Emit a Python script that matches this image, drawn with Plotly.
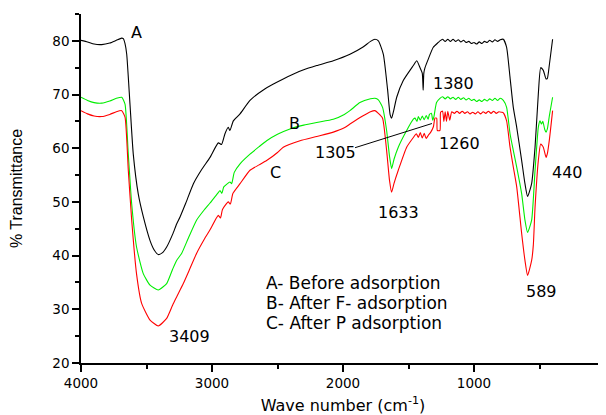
import plotly.graph_objects as go

# FTIR spectra (wavenumber cm-1, % transmittance)
wn_a = [4000, 3950, 3900, 3842, 3780, 3730, 3690, 3677, 3664, 3651, 3626, 3601, 3563, 3524, 3473, 3440,
        3410, 3380, 3346, 3300, 3270, 3244, 3200, 3142, 3080, 3015, 2952, 2927, 2901, 2876, 2863, 2837,
        2786, 2710, 2600, 2456, 2300, 2201, 2074, 1947, 1850, 1790, 1756, 1730, 1692, 1660, 1640, 1629,
        1615, 1590, 1540, 1463, 1437, 1412, 1395, 1388, 1383, 1374, 1349, 1311, 1273,
        1260, 1240, 1220, 1200, 1180, 1160, 1140, 1120, 1100, 1080, 1060, 1040, 1020, 1000, 980, 960,
        940, 920, 900, 880, 860, 840, 820, 800, 776, 751, 725, 700, 674, 636, 611, 591, 560, 534, 509,
        491, 471, 450, 440, 425, 400]
tr_a = [80.1, 79.8, 79.4, 79.3, 79.6, 80.1, 80.5, 80.4, 79.5, 77.5, 68.2, 58.9, 51.5, 47.2, 42.8, 41.0,
        40.2, 40.5, 41.6, 44.0, 45.9, 47.2, 49.8, 53.4, 56.0, 58.3, 61.0, 60.7, 62.7, 63.9, 63.3, 65.1,
        66.4, 68.9, 71.0, 72.9, 74.6, 75.4, 76.3, 77.5, 78.8, 79.9, 80.3, 80.0, 77.5, 71.0, 66.2, 65.6,
        66.8, 69.5, 72.6, 75.4, 76.3, 75.0, 74.0, 70.8, 74.0, 75.0, 76.6, 78.8, 79.7,
        80.0, 80.3, 79.9, 80.3, 79.9, 80.3, 79.9, 80.2, 79.8, 80.1, 79.7, 79.9, 79.5, 79.7, 79.4, 79.8,
        79.5, 79.9, 79.7, 80.1, 79.8, 80.2, 79.9, 80.2, 80.3, 78.8, 73.2, 67.6, 63.9, 57.7, 53.4, 51.0,
        53.4, 60.2, 70.1, 75.0, 74.5, 72.9, 73.0, 75.5, 80.3]

wn_b = [4000, 3950, 3900, 3842, 3780, 3730, 3689, 3664, 3639, 3613, 3576, 3524, 3473, 3410, 3346, 3300,
        3270, 3232, 3180, 3118, 3060, 3015, 2960, 2939, 2925, 2910, 2863, 2850, 2830, 2786, 2710, 2640,
        2583, 2500, 2405, 2300, 2201, 2074, 1990, 1947, 1871, 1790, 1756, 1730, 1698, 1667, 1645, 1629,
        1610, 1578, 1514, 1463, 1450, 1435, 1425, 1410, 1395, 1380, 1365, 1350, 1340, 1325, 1315, 1305,
        1286, 1260, 1240, 1220, 1200, 1180, 1160, 1140, 1120, 1100, 1080, 1060, 1040, 1020, 1000, 980,
        960, 940, 920, 900, 880, 860, 840, 820, 800, 776, 751, 725, 700, 674, 636, 611, 591, 560, 534,
        509, 496, 485, 475, 460, 450, 440, 425, 400]
tr_b = [69.5, 68.9, 68.5, 68.4, 68.8, 69.3, 69.5, 68.2, 58.9, 49.6, 41.6, 36.6, 34.5, 33.6, 34.8, 37.5,
        39.1, 40.4, 43.3, 46.6, 48.5, 49.8, 51.5, 52.1, 51.6, 52.8, 53.7, 53.4, 55.5, 57.1, 58.9, 60.3,
        61.4, 62.6, 63.6, 64.3, 64.8, 65.4, 66.3, 67.0, 68.5, 69.2, 69.3, 69.0, 67.6, 63.3, 58.5, 56.2,
        58.0, 60.2, 63.3, 65.4, 65.6, 65.0, 65.9, 65.2, 66.0, 65.3, 66.1, 65.4, 66.3, 66.5, 65.2, 66.0,
        68.5, 69.3, 69.6, 69.2, 69.6, 69.2, 69.5, 69.1, 69.5, 69.1, 69.4, 69.0, 69.3, 68.9, 69.1, 68.7,
        69.0, 68.7, 69.1, 68.8, 69.2, 68.9, 69.3, 68.9, 69.3, 68.9, 67.6, 62.7, 59.6, 56.5, 51.5, 46.6,
        44.3, 46.6, 55.9, 63.9, 65.1, 64.5, 65.0, 63.5, 63.0, 63.6, 66.0, 69.5]

wn_c = [4000, 3950, 3900, 3842, 3780, 3730, 3689, 3664, 3639, 3613, 3576, 3537, 3473, 3410, 3346, 3300,
        3270, 3219, 3170, 3118, 3060, 3015, 2952, 2935, 2920, 2876, 2860, 2840, 2786, 2710, 2640, 2583,
        2500, 2456, 2328, 2200, 2074, 1990, 1947, 1850, 1790, 1756, 1730, 1698, 1667, 1645, 1629, 1610,
        1578, 1514, 1463, 1440, 1425, 1410, 1395, 1380, 1365, 1349, 1330, 1310, 1298, 1285, 1280, 1260,
        1255, 1240, 1230, 1220, 1210, 1200, 1185, 1170, 1150, 1130, 1110, 1090, 1070, 1050, 1030, 1010,
        990, 970, 950, 930, 910, 890, 870, 850, 830, 810, 789, 776, 751, 725, 700, 674, 636, 611, 591,
        560, 547, 534, 509, 491, 471, 450, 440, 425, 400]
tr_c = [67.0, 66.4, 66.0, 65.9, 66.3, 66.8, 67.0, 65.8, 55.9, 46.6, 36.6, 31.1, 28.0, 26.9, 28.3, 30.8,
        32.3, 34.8, 37.5, 40.4, 43.0, 44.8, 47.5, 47.0, 48.6, 50.0, 49.6, 51.6, 53.4, 55.9, 56.9, 57.7,
        59.2, 60.2, 61.4, 62.2, 63.0, 63.8, 64.5, 66.0, 66.8, 67.0, 66.5, 65.6, 59.6, 54.0, 51.8, 53.5,
        55.9, 60.2, 62.0, 62.7, 62.0, 62.9, 61.9, 62.8, 61.8, 62.4, 63.0, 64.0, 65.6, 65.6, 63.3, 63.3,
        66.7, 66.9, 65.0, 66.8, 65.0, 66.9, 65.2, 66.8, 66.5, 66.9, 66.5, 66.9, 66.5, 66.8, 66.4, 66.7,
        66.4, 66.8, 66.4, 66.8, 66.5, 66.9, 66.5, 66.9, 66.5, 66.8, 66.7, 66.6, 65.1, 60.2, 56.5, 52.8,
        44.1, 39.1, 36.3, 39.1, 42.0, 49.0, 57.7, 60.8, 60.2, 58.3, 59.0, 61.5, 67.0]

curves = [("A", wn_a, tr_a, "black"), ("B", wn_b, tr_b, "#00ee00"), ("C", wn_c, tr_c, "#ff0000")]

# peak / curve labels: (text, wavenumber, %T)
labels = [("A", 3580, 81.5), ("B", 2374, 64.6), ("C", 2519, 55.5), ("1305", 2061, 59.2),
          ("1380", 1153, 72.0), ("1260", 1107, 60.9), ("440", 290, 55.5), ("1633", 1573, 48.1),
          ("589", 481, 33.4), ("3409", 3168, 25.0)]
legend_lines = ["A- Before adsorption", "B- After F- adsorption", "C- After P adsorption"]
legend_y = [34.9, 31.1, 27.4]

fnt = "DejaVu Sans"

fig = go.Figure()
for name, wn, tr, col in curves:
    fig.add_trace(go.Scatter(x=wn, y=tr, mode="lines", name=name,
                             line=dict(color=col, width=1.1, shape="spline", smoothing=0.5)))

# pointer line for the 1305 label
fig.add_trace(go.Scatter(x=[1908, 1321], y=[60.1, 64.6], mode="lines",
                         line=dict(color="black", width=1), showlegend=False))

for txt, x, y in labels:
    fig.add_annotation(x=x, y=y, text=txt, showarrow=False,
                       font=dict(family=fnt, size=16, color="black"))
for txt, y in zip(legend_lines, legend_y):
    fig.add_annotation(x=2603, y=y, text=txt, showarrow=False, xanchor="left",
                       font=dict(family=fnt, size=17, color="black"))

# page body adds an 8px margin, so the figure is 8px smaller than the window
fig.update_layout(
    width=598, height=407,
    margin=dict(l=73, r=1, t=6, b=52),
    plot_bgcolor="white", paper_bgcolor="white",
    showlegend=False,
    font=dict(family=fnt, size=13.5, color="black"),
)
fig.update_xaxes(range=[4000, 0], dtick=1000, tick0=0, showgrid=False, zeroline=False,
                 showline=True, linecolor="black", linewidth=1.5,
                 ticks="outside", ticklen=7, tickwidth=1.5, tickcolor="black",
                 minor=dict(dtick=500, ticks="outside", ticklen=4, tickwidth=1.5, tickcolor="black"),
                 title=dict(text="Wave number (cm<sup>-1</sup>)", font=dict(size=16), standoff=14),
                 automargin=False)
fig.update_yaxes(range=[20, 85], dtick=10, tick0=0, showgrid=False, zeroline=False,
                 showline=True, linecolor="black", linewidth=1.5,
                 ticks="outside", ticklen=7, tickwidth=1.5, tickcolor="black",
                 minor=dict(dtick=5, ticks="outside", ticklen=4, tickwidth=1.5, tickcolor="black"),
                 title=dict(text="% Transmittance", font=dict(family="Liberation Sans", size=16), standoff=27),
                 automargin=False)

fig.write_html("out.html")
